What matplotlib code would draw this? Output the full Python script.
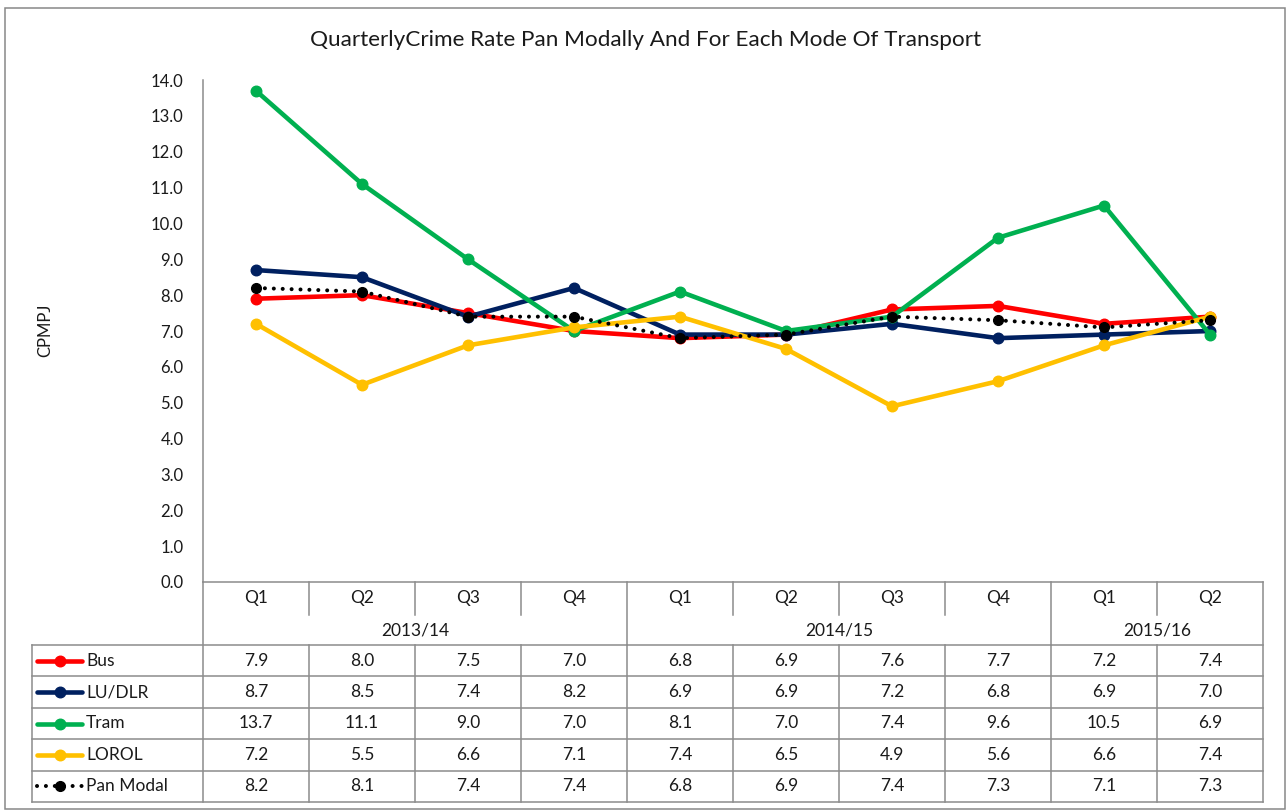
import matplotlib

matplotlib.use("Agg")

import matplotlib.pyplot as plt
from matplotlib.lines import Line2D
from matplotlib.patches import Rectangle

plt.rcParams["font.family"] = ["Lato", "DejaVu Sans"]

# --- data ---
QUARTERS = ["Q1", "Q2", "Q3", "Q4", "Q1", "Q2", "Q3", "Q4", "Q1", "Q2"]
YEARS = ["2013/14", "2014/15", "2015/16"]
YEAR_SPANS = [4, 4, 2]
SERIES = ["Bus", "LU/DLR", "Tram", "LOROL", "Pan Modal"]
bus = [7.9, 8.0, 7.5, 7.0, 6.8, 6.9, 7.6, 7.7, 7.2, 7.4]
lu_dlr = [8.7, 8.5, 7.4, 8.2, 6.9, 6.9, 7.2, 6.8, 6.9, 7.0]
tram = [13.7, 11.1, 9.0, 7.0, 8.1, 7.0, 7.4, 9.6, 10.5, 6.9]
lorol = [7.2, 5.5, 6.6, 7.1, 7.4, 6.5, 4.9, 5.6, 6.6, 7.4]
pan_modal = [8.2, 8.1, 7.4, 7.4, 6.8, 6.9, 7.4, 7.3, 7.1, 7.3]
VALUES = [bus, lu_dlr, tram, lorol, pan_modal]

COLORS = ["#FF0000", "#002060", "#00B050", "#FFC000", "#000000"]
TEXT = "#1a1a1a"
GRID = "#8c8c8c"

# --- layout in pixels (figure is 1287 x 810) ---
W, H = 1287, 810
PLOT_L, PLOT_R, PLOT_T, PLOT_B = 203, 1263, 80, 582
COL_W = (PLOT_R - PLOT_L) / len(QUARTERS)
QROW_B = 615
YROW_B = 645
ROW_H = 31.4
KEY_L = 32
LW = 1.1


def series_style(i):
    if SERIES[i] == "Pan Modal":
        # round dots: near-zero dash with round caps
        return dict(color=COLORS[i], lw=2.9, dashes=(0.01, 2.2), marker="o", ms=7,
                    dash_capstyle="round")
    return dict(color=COLORS[i], lw=3.3, ls="-", marker="o", ms=7.6,
                solid_capstyle="round")


fig = plt.figure(figsize=(W / 100, H / 100), dpi=100)

# overlay in pixel coordinates for the frame and the data table
grid = fig.add_axes([0, 0, 1, 1])
grid.set_xlim(0, W)
grid.set_ylim(H, 0)
grid.axis("off")

grid.add_patch(Rectangle((5, 8), 1280, 801, fill=False, edgecolor="#888888", lw=1.1))

ax = fig.add_axes([PLOT_L / W, 1 - PLOT_B / H, (PLOT_R - PLOT_L) / W, (PLOT_B - PLOT_T) / H])
ax.patch.set_alpha(0)

x = [i + 0.5 for i in range(len(QUARTERS))]
for i, vals in enumerate(VALUES):
    ax.plot(x, vals, clip_on=False, **series_style(i))

ax.set_xlim(0, len(QUARTERS))
ax.set_ylim(0, 14)
ax.set_yticks(range(0, 15))
ax.set_yticklabels([f"{v:.1f}" for v in range(0, 15)], fontsize=12, color=TEXT)
ax.tick_params(axis="y", length=0, pad=14)
ax.set_xticks([])
for side in ["top", "right", "bottom"]:
    ax.spines[side].set_visible(False)
ax.spines["left"].set_color(GRID)
ax.spines["left"].set_linewidth(LW)

fig.text(646 / W, 1 - 40 / H, "QuarterlyCrime Rate Pan Modally And For Each Mode Of Transport",
         ha="center", va="center", fontsize=16.2, color=TEXT)
fig.text(45 / W, 1 - 330 / H, "CPMPJ", rotation=90, ha="center", va="center",
         fontsize=12, color=TEXT)

# --- data table ---
col_edges = [PLOT_L + k * COL_W for k in range(len(QUARTERS) + 1)]
row_edges = [YROW_B + k * ROW_H for k in range(len(SERIES) + 1)]

# quarter row
grid.plot([PLOT_L, PLOT_R], [PLOT_B, PLOT_B], color=GRID, lw=LW)
for k, q in enumerate(QUARTERS):
    grid.text(col_edges[k] + COL_W / 2, (PLOT_B + QROW_B) / 2, q,
              ha="center", va="center", fontsize=12.5, color=TEXT)

# year row and separators
year_edges = [0]
for span in YEAR_SPANS:
    year_edges.append(year_edges[-1] + span)
for k in range(1, len(QUARTERS)):
    top_end = YROW_B if k in year_edges else QROW_B
    grid.plot([col_edges[k]] * 2, [PLOT_B, top_end], color=GRID, lw=LW)
for k, yr in enumerate(YEARS):
    cx = (col_edges[year_edges[k]] + col_edges[year_edges[k + 1]]) / 2
    grid.text(cx, (QROW_B + YROW_B) / 2, yr, ha="center", va="center",
              fontsize=12.5, color=TEXT)
grid.plot([PLOT_L] * 2, [PLOT_B, row_edges[-1]], color=GRID, lw=LW)
grid.plot([PLOT_R] * 2, [PLOT_B, row_edges[-1]], color=GRID, lw=LW)

# value rows
for y in row_edges:
    grid.plot([KEY_L, PLOT_R], [y, y], color=GRID, lw=LW)
grid.plot([KEY_L] * 2, [row_edges[0], row_edges[-1]], color=GRID, lw=LW)
for k in range(1, len(QUARTERS)):
    grid.plot([col_edges[k]] * 2, [row_edges[0], row_edges[-1]], color=GRID, lw=LW)

for i, name in enumerate(SERIES):
    cy = (row_edges[i] + row_edges[i + 1]) / 2
    style = series_style(i)
    key = Line2D([37, 82], [cy, cy], markevery=[], **style)
    grid.add_line(key)
    grid.plot([59.5], [cy], marker="o", ms=style["ms"], color=COLORS[i], lw=0)
    grid.text(86, cy, name, ha="left", va="center", fontsize=12.5, color=TEXT)
    for k, v in enumerate(VALUES[i]):
        grid.text(col_edges[k] + COL_W / 2, cy, f"{v:.1f}", ha="center", va="center",
                  fontsize=12.5, color=TEXT)

fig.savefig("out.png", dpi=100)
